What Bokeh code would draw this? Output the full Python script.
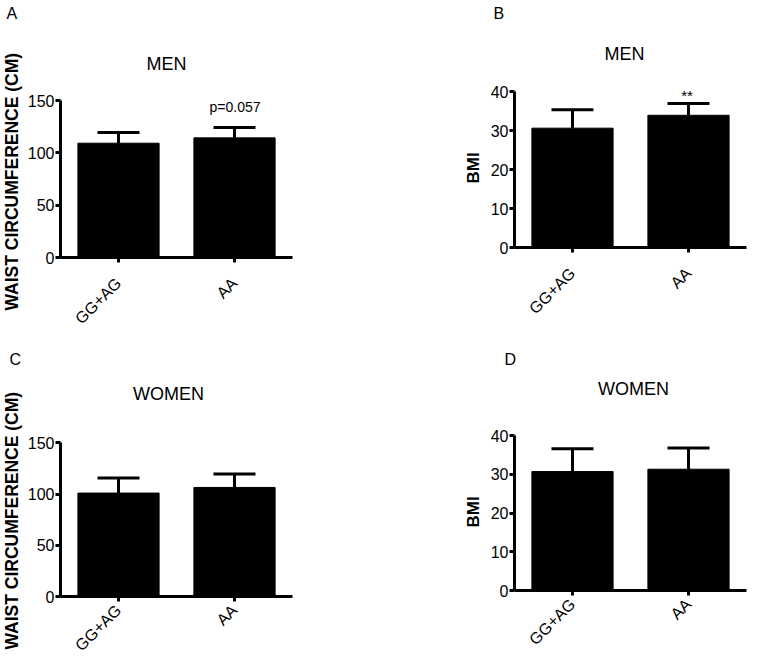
from math import pi
from bokeh.plotting import figure
from bokeh.layouts import column, row
from bokeh.models import (Range1d, FactorRange, FixedTicker, Label, Whisker, TeeHead,
                          ColumnDataSource, Title)
from bokeh.embed import file_html
from bokeh.resources import INLINE

# ---------------- data ----------------
genotypes = ["GG+AG", "AA"]
waist_men_mean = [109.2, 114.3]
waist_men_sd = [10.2, 9.9]
bmi_men_mean = [30.6, 33.9]
bmi_men_sd = [4.7, 3.0]
waist_women_mean = [101.0, 106.5]
waist_women_sd = [14.6, 13.2]
bmi_women_mean = [30.7, 31.3]
bmi_women_sd = [5.9, 5.5]
waist_ticks = [0, 50, 100, 150]
bmi_ticks = [0, 10, 20, 30, 40]
panel_letters = ["A", "B", "C", "D"]
group_titles = ["MEN", "MEN", "WOMEN", "WOMEN"]
y_titles = ["WAIST CIRCUMFERENCE (CM)", "BMI", "WAIST CIRCUMFERENCE (CM)", "BMI"]
notes = ["p=0.057", "**", "", ""]

FONT = "Liberation Sans"


def make_panel(idx, means, sds, ticks, geo):
    fx, fy = geo["fig"]
    w, h = geo["size"]
    fl, ft, fw, fb = geo["frame"]      # frame left, top, width, bottom (page px)
    axis_top = geo["axis_top"]         # page y of the highest tick
    bl, bt = fl - fx, ft - fy
    br = w - bl - fw
    bb = fy + h - fb
    ymax = ticks[-1]
    y_end = ymax * (fb - ft) / (fb - axis_top)
    p = figure(width=w, height=h, x_range=FactorRange(factors=genotypes, range_padding=0),
               y_range=Range1d(0, y_end), output_backend="svg", toolbar_location=None,
               min_border_left=bl, min_border_right=br, min_border_top=bt, min_border_bottom=bb)
    p.outline_line_color = None
    p.background_fill_color = "white"
    p.border_fill_color = "white"
    p.xgrid.visible = False
    p.ygrid.visible = False

    src = ColumnDataSource(dict(x=genotypes, top=means,
                                upper=[m + s for m, s in zip(means, sds)]))
    p.vbar(x="x", top="top", width=0.7, source=src, fill_color="black", line_color="black")
    wh = Whisker(base="x", lower="top", upper="upper", source=src, dimension="height",
                 line_width=3, line_color="black",
                 upper_head=TeeHead(size=42, line_width=3, line_color="black"), lower_head=None)
    p.add_layout(wh)

    p.yaxis.ticker = FixedTicker(ticks=ticks)
    p.yaxis.bounds = (0, ymax)
    for ax in (p.xaxis, p.yaxis):
        ax.axis_line_width = 3
        ax.axis_line_color = "black"
        ax.major_tick_line_width = 3
        ax.major_tick_line_color = "black"
        ax.major_tick_out = 5
        ax.major_tick_in = 0
        ax.minor_tick_line_color = None
        ax.major_label_text_font = FONT
        ax.major_label_text_font_size = "16px"
        ax.major_label_text_color = "black"
    p.yaxis.major_label_standoff = 1
    p.xaxis.major_label_standoff = geo["xlabel_standoff"]
    p.xaxis.major_label_orientation = pi / 4

    # y-axis title, placed along the axis span (not the extended frame)
    ylab_size = 17.5 if idx in (0, 2) else 17.0
    p.add_layout(Title(text=y_titles[idx], align="left", offset=geo["ylabel_offset"],
                       vertical_align="top", standoff=geo["ylabel_standoff"],
                       text_font=FONT, text_font_size=f"{ylab_size}px",
                       text_font_style="bold", text_color="black"), "left")

    # panel letter in the top border
    p.add_layout(Title(text=panel_letters[idx], align="left", offset=geo["letter_offset"],
                       vertical_align="middle", standoff=geo["letter_standoff"], text_font=FONT,
                       text_font_size="16px", text_font_style="normal", text_color="black"),
                 "above")

    def dx(px):
        return (px - fl) / fw * 2.0

    def dy(py):
        return (fb - py) / (fb - ft) * y_end

    tx, ty = geo["title"]
    p.add_layout(Label(x=dx(tx), y=dy(ty), text=group_titles[idx], text_font=FONT,
                       text_font_size="18px", text_align="center", text_baseline="middle",
                       text_color="black"))
    if notes[idx]:
        nx, ny, ns = geo["note"]
        p.add_layout(Label(x=dx(nx), y=dy(ny), text=notes[idx], text_font=FONT,
                           text_font_size=ns, text_align="center", text_baseline="alphabetic",
                           text_color="black"))
    return p


pA = make_panel(0, waist_men_mean, waist_men_sd, waist_ticks,
                dict(fig=(0, 0), size=(379, 338), frame=(58, 25, 234, 257), axis_top=100,
                     ylabel_offset=-53, ylabel_standoff=2, xlabel_standoff=18,
                     letter_offset=-54, letter_standoff=5,
                     title=(165, 63.5), note=(234, 106, "14px")))
pB = make_panel(1, bmi_men_mean, bmi_men_sd, bmi_ticks,
                dict(fig=(379, 0), size=(377, 338), frame=(514, 25, 232, 247), axis_top=91,
                     ylabel_offset=64, ylabel_standoff=6, xlabel_standoff=18,
                     letter_offset=-21, letter_standoff=5,
                     title=(624, 53.5), note=(686.5, 94.5, "15px")))
pC = make_panel(2, waist_women_mean, waist_women_sd, waist_ticks,
                dict(fig=(0, 338), size=(379, 325), frame=(58, 376, 234, 598), axis_top=443,
                     ylabel_offset=-53, ylabel_standoff=2, xlabel_standoff=6,
                     letter_offset=-51, letter_standoff=15,
                     title=(167, 393.5)))
pD = make_panel(3, bmi_women_mean, bmi_women_sd, bmi_ticks,
                dict(fig=(379, 338), size=(377, 325), frame=(514, 376, 232, 590), axis_top=435,
                     ylabel_offset=63, ylabel_standoff=6, xlabel_standoff=6,
                     letter_offset=-10, letter_standoff=15,
                     title=(633, 388)))

layout = row(column(pA, pC, spacing=0), column(pB, pD, spacing=0), spacing=0)

with open("out.html", "w") as f:
    f.write(file_html(layout, INLINE))
